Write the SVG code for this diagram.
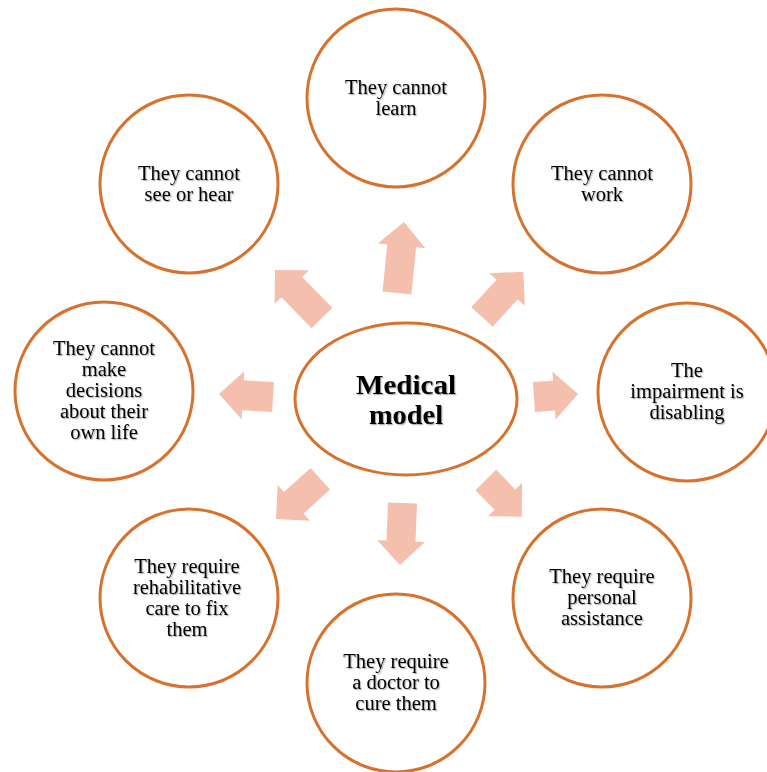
<svg xmlns="http://www.w3.org/2000/svg" width="767" height="772" viewBox="0 0 767 772">
  <defs>
    <filter id="shadow" x="-10%" y="-20%" width="130%" height="150%">
      <feDropShadow dx="1.2" dy="1.2" stdDeviation="0.7" flood-color="#000" flood-opacity="0.3"/>
    </filter>
    <style>
      .ring { fill: #ffffff; stroke: #d6722e; stroke-width: 3; }
      .label { font-family: "Liberation Serif", "Times New Roman", serif; font-size: 20.5px; fill: #000; text-anchor: middle; filter: url(#shadow); }
      .title { font-family: "Liberation Serif", "Times New Roman", serif; font-size: 26.5px; font-weight: bold; fill: #000; text-anchor: middle; filter: url(#shadow); }
      .arrow { fill: #f4c0ad; }
    </style>
  </defs>
  <rect width="767" height="772" fill="#ffffff"/>

  <!-- block arrows radiating from the centre -->
  <g id="connectors">
    <path class="arrow" transform="translate(397,293) rotate(-84.4)" d="M0,-14.5 L47.3,-14.5 L47.3,-24 L71.3,0 L47.3,24 L47.3,14.5 L0,14.5 Z"/>
    <path class="arrow" transform="translate(322,318) rotate(-134.4)" d="M0,-14.5 L43.2,-14.5 L43.2,-24 L67.2,0 L43.2,24 L43.2,14.5 L0,14.5 Z"/>
    <path class="arrow" transform="translate(482,317) rotate(-47.6)" d="M0,-14.5 L37.3,-14.5 L37.3,-24 L61.3,0 L37.3,24 L37.3,14.5 L0,14.5 Z"/>
    <path class="arrow" transform="translate(273,397) rotate(-176.8)" d="M0,-15 L30.1,-15 L30.1,-24 L54.1,0 L30.1,24 L30.1,15 L0,15 Z"/>
    <path class="arrow" transform="translate(534,397) rotate(-3.9)" d="M0,-15 L20.1,-15 L20.1,-24 L44.1,0 L20.1,24 L20.1,15 L0,15 Z"/>
    <path class="arrow" transform="translate(320.3,478.8) rotate(137.8)" d="M0,-14.5 L35.8,-14.5 L35.8,-24 L59.8,0 L35.8,24 L35.8,14.5 L0,14.5 Z"/>
    <path class="arrow" transform="translate(402.5,503) rotate(92.3)" d="M0,-14.5 L38,-14.5 L38,-24 L62,0 L38,24 L38,14.5 L0,14.5 Z"/>
    <path class="arrow" transform="translate(485.8,480) rotate(45.6)" d="M0,-14.5 L27.4,-14.5 L27.4,-24 L51.4,0 L27.4,24 L27.4,14.5 L0,14.5 Z"/>
  </g>

  <g id="center">
    <ellipse class="ring" cx="406" cy="399" rx="111" ry="76"/>
    <text class="title" x="406" y="394" textLength="100" lengthAdjust="spacingAndGlyphs">Medical</text>
    <text class="title" x="406" y="424" textLength="74" lengthAdjust="spacingAndGlyphs">model</text>
  </g>

  <g id="cannot-learn">
    <circle class="ring" cx="396" cy="98" r="89"/>
    <text class="label" x="396" y="93.5">They cannot</text>
    <text class="label" x="396" y="114.5">learn</text>
  </g>

  <g id="cannot-work">
    <circle class="ring" cx="602" cy="184" r="89"/>
    <text class="label" x="602" y="179.5">They cannot</text>
    <text class="label" x="602" y="200.5">work</text>
  </g>

  <g id="impairment-disabling">
    <circle class="ring" cx="687" cy="392" r="89"/>
    <text class="label" x="687" y="377">The</text>
    <text class="label" x="687" y="398">impairment is</text>
    <text class="label" x="687" y="419">disabling</text>
  </g>

  <g id="personal-assistance">
    <circle class="ring" cx="602" cy="598" r="89"/>
    <text class="label" x="602" y="583">They require</text>
    <text class="label" x="602" y="604">personal</text>
    <text class="label" x="602" y="625">assistance</text>
  </g>

  <g id="doctor-cure">
    <circle class="ring" cx="396" cy="683" r="89"/>
    <text class="label" x="396" y="668">They require</text>
    <text class="label" x="396" y="689">a doctor to</text>
    <text class="label" x="396" y="710">cure them</text>
  </g>

  <g id="rehabilitative-care">
    <circle class="ring" cx="189" cy="598" r="89"/>
    <text class="label" x="187" y="572.5">They require</text>
    <text class="label" x="187" y="593.5">rehabilitative</text>
    <text class="label" x="187" y="614.5">care to fix</text>
    <text class="label" x="187" y="635.5">them</text>
  </g>

  <g id="cannot-decide">
    <circle class="ring" cx="104" cy="391" r="89"/>
    <text class="label" x="104" y="355">They cannot</text>
    <text class="label" x="104" y="376">make</text>
    <text class="label" x="104" y="397">decisions</text>
    <text class="label" x="104" y="418">about their</text>
    <text class="label" x="104" y="439">own life</text>
  </g>

  <g id="cannot-see-hear">
    <circle class="ring" cx="189" cy="184" r="89"/>
    <text class="label" x="189" y="179.5">They cannot</text>
    <text class="label" x="189" y="200.5">see or hear</text>
  </g>
</svg>
